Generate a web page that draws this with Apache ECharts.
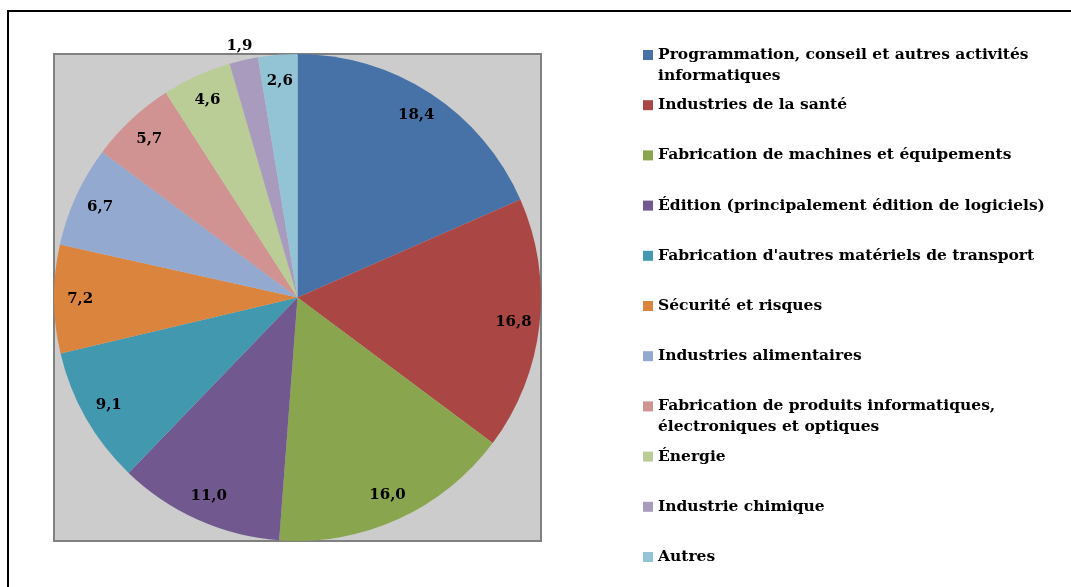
<!DOCTYPE html>
<html>
<head>
<meta charset="utf-8">
<style>
  html, body { margin: 0; padding: 0; background: #fff; }
  #chart { width: 1071px; height: 587px; }
</style>
<script src="https://cdn.jsdelivr.net/npm/echarts@6/dist/echarts.min.js"></script>
</head>
<body>
<div id="chart"></div>
<script>
const categories = [
  'Programmation, conseil et autres activités informatiques',
  'Industries de la santé',
  'Fabrication de machines et équipements',
  'Édition (principalement édition de logiciels)',
  "Fabrication d'autres matériels de transport",
  'Sécurité et risques',
  'Industries alimentaires',
  'Fabrication de produits informatiques, électroniques et optiques',
  'Énergie',
  'Industrie chimique',
  'Autres'
]
const values = [18.4, 16.8, 16.0, 11.0, 9.1, 7.2, 6.7, 5.7, 4.6, 1.9, 2.6]
const colors = ['#4672a8', '#aa4644', '#89a54e', '#71588f', '#4198af', '#db843d',
  '#93a9d0', '#d09392', '#bacd96', '#a99bbd', '#93c4d5']

const font = '"DejaVu Serif", serif'
const legendSize = 15.5
const lineH = 21
const wrapWidth = 400
const legendTop = 55      // centre of the first legend line
const legendStep = 50.2   // distance between legend entries
const cx = 297.5, cy = 297.5, r = 243.5

// find which legend entries wrap onto two lines
const ctx = document.createElement('canvas').getContext('2d')
ctx.font = 'bold ' + legendSize + 'px ' + font
const isWrapped = name => ctx.measureText(name).width > wrapWidth

const chart = echarts.init(document.getElementById('chart'))

const pieData = categories.map((name, i) => ({
  name,
  value: values[i],
  itemStyle: { color: colors[i] }
}))

const labelData = categories.map((name, i) => {
  const d = { name, value: values[i] }
  // the smallest slice gets its label outside, as in the original
  if (values[i] < 2) {
    d.label = { position: 'outside', distanceToLabelLine: -12 }
    d.labelLine = { show: false, length: 19, length2: 0 }
  }
  return d
})

// one legend per entry so every first line sits on the same step;
// wrapped entries use a taller icon box with the square at its top
const legends = categories.map((name, i) => {
  const wrapped = isWrapped(name)
  return {
    orient: 'vertical',
    left: 643,
    top: legendTop + i * legendStep - lineH / 2,
    padding: 0,
    itemWidth: 10,
    itemHeight: wrapped ? 10 + lineH : 10,
    icon: wrapped ? 'path://M0,0L10,0L10,10L0,10Z M0,31L0,31' : 'rect',
    data: [name],
    selectedMode: false,
    textStyle: {
      fontFamily: font,
      fontWeight: 'bold',
      fontSize: legendSize,
      color: '#000',
      lineHeight: lineH,
      width: wrapWidth,
      overflow: 'break'
    }
  }
})

chart.setOption({
  animation: false,
  backgroundColor: '#fff',
  graphic: [
    { type: 'rect', shape: { x: 8, y: 11, width: 1080, height: 600 },
      style: { fill: 'none', stroke: '#000', lineWidth: 2 }, z: -10 },
    { type: 'rect', shape: { x: 54, y: 54, width: 487, height: 487 },
      style: { fill: '#cccccc', stroke: '#808080', lineWidth: 2 }, z: -10 }
  ],
  legend: legends,
  series: [
    {
      type: 'pie',
      center: [cx, cy],
      radius: [0, r],
      startAngle: 90,
      clockwise: true,
      silent: true,
      label: { show: false },
      labelLine: { show: false },
      itemStyle: { borderWidth: 0 },
      data: pieData
    },
    {
      // transparent ring that only carries the value labels near the rim
      type: 'pie',
      center: [cx, cy],
      radius: [r * 0.78, r * 0.98],
      startAngle: 90,
      clockwise: true,
      silent: true,
      itemStyle: { color: 'rgba(0,0,0,0)', borderWidth: 0 },
      label: {
        show: true,
        position: 'inside',
        fontFamily: font,
        fontWeight: 'bold',
        fontSize: 15,
        color: '#000',
        formatter: p => p.value.toFixed(1).replace('.', ',')
      },
      labelLine: { show: false },
      data: labelData
    }
  ]
})
</script>
</body>
</html>
